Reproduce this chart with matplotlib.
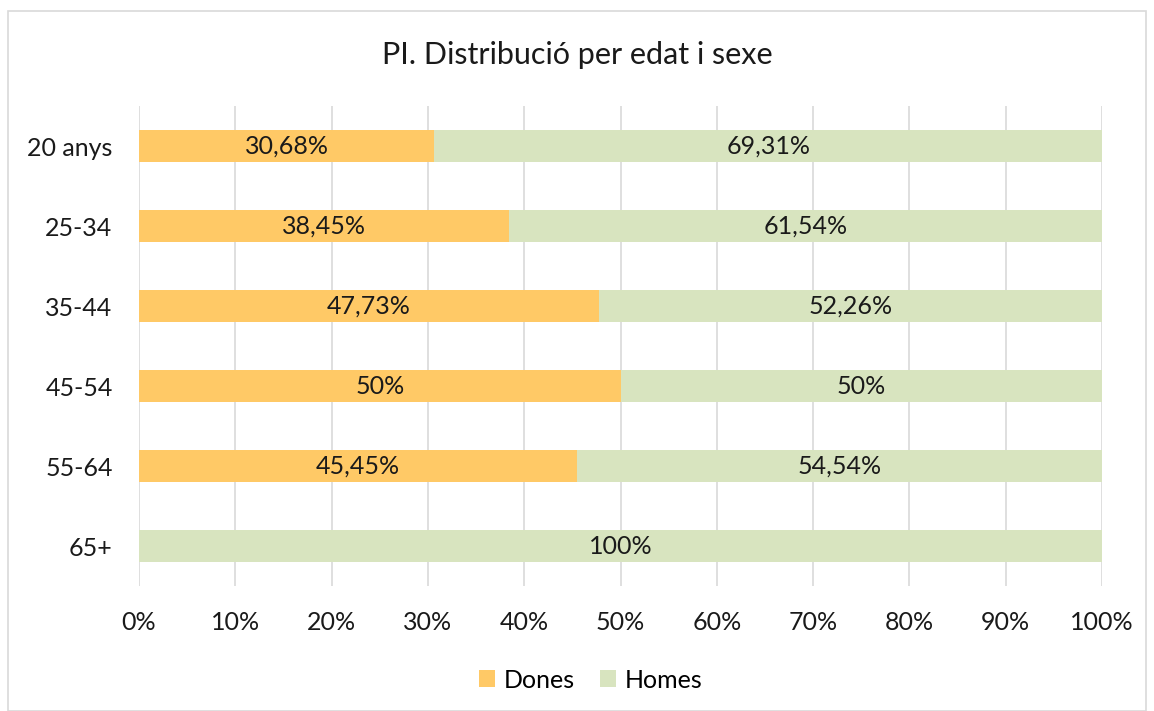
import matplotlib
matplotlib.use("Agg")
import matplotlib.pyplot as plt
from matplotlib.patches import Rectangle

plt.rcParams['font.family'] = ['Lato', 'DejaVu Sans']

categories = ["20 anys", "25-34", "35-44", "45-54", "55-64", "65+"]
dones = [30.68, 38.45, 47.73, 50, 45.45, 0]
homes = [69.31, 61.54, 52.26, 50, 54.54, 100]
xticks = [0, 10, 20, 30, 40, 50, 60, 70, 80, 90, 100]
title = "PI. Distribució per edat i sexe"

c_dones = "#FFC966"
c_homes = "#D8E4BF"
fs = 18

fig = plt.figure(figsize=(11.54, 7.11), dpi=100)
ax = fig.add_axes([139/1154, 1-586/711, (1102-139)/1154, (586-106)/711])

y = list(range(len(categories)))
ax.barh(y, dones, height=0.4, color=c_dones, label="Dones", zorder=3)
ax.barh(y, homes, left=dones, height=0.4, color=c_homes, label="Homes", zorder=3)

def fmt(v):
    return f"{v:g}".replace('.', ',') + "%"

for i in y:
    if dones[i] > 0:
        ax.text(dones[i]/2, i, fmt(dones[i]), ha='center', va='center', fontsize=fs, color='#1a1a1a', zorder=4)
    if homes[i] > 0:
        ax.text(dones[i] + homes[i]/2, i, fmt(homes[i]), ha='center', va='center', fontsize=fs, color='#1a1a1a', zorder=4)

ax.set_ylim(len(categories)-0.5, -0.5)
ax.set_xlim(0, 100)
ax.set_yticks(y)
ax.set_yticklabels(categories, fontsize=fs, color='#1a1a1a')
ax.set_xticks(xticks)
ax.set_xticklabels([f"{t}%" for t in xticks], fontsize=fs, color='#1a1a1a')
ax.tick_params(length=0)
ax.tick_params(axis='y', pad=19)
ax.tick_params(axis='x', pad=18)
ax.grid(axis='x', color='#D9D9D9', linewidth=1.2, zorder=0)
for s in ax.spines.values():
    s.set_visible(False)

fig.text(0.5, 1-55/711, title, ha='center', va='center', fontsize=22, color='#1a1a1a')

fig.legend(loc='center', bbox_to_anchor=(591/1154, 1-680/711), ncol=2, frameon=False,
           fontsize=fs, handlelength=0.65, handleheight=0.65, handletextpad=0.35, columnspacing=1.0)

fig.patches.append(Rectangle((8/1154, 0), 1138/1154, 1-11/711, transform=fig.transFigure,
                             fill=False, edgecolor='#D9D9D9', linewidth=1.2))

fig.savefig("out.png", dpi=100)
